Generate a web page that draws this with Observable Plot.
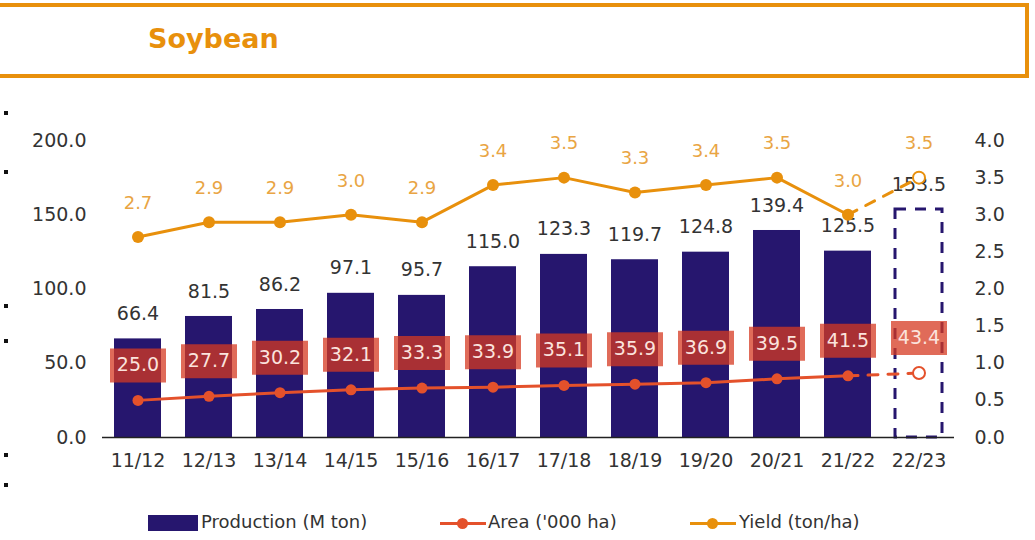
<!DOCTYPE html>
<html>
<head>
<meta charset="utf-8">
<script src="https://cdn.jsdelivr.net/npm/d3@7"></script>
<script src="https://cdn.jsdelivr.net/npm/@observablehq/plot@0.6"></script>
<style>
  html, body { margin: 0; padding: 0; background: #fff; }
  body { width: 1035px; height: 540px; position: relative; overflow: hidden; font-family: "DejaVu Sans", sans-serif; }
  #titlebox { position: absolute; left: -5px; top: 3px; width: 1034px; height: 75px; box-sizing: border-box; border: 4px solid #e8900c; }
  #title { position: absolute; left: 148px; top: 23px; font-size: 27px; font-weight: bold; color: #e8900c; }
  #chart { position: absolute; left: 0; top: 100px; }
  .dotmark { position: absolute; left: 4px; width: 4px; height: 4px; background: #111; }
  .leg { position: absolute; top: 511px; font-size: 18px; color: #333; white-space: nowrap; }
  .sw { position: absolute; }
</style>
</head>
<body>
<div id="titlebox"></div>
<div id="title">Soybean</div>
<div id="chart"></div>
<div id="legend"></div>
<script>
const seasons = ["11/12","12/13","13/14","14/15","15/16","16/17","17/18","18/19","19/20","20/21","21/22","22/23"];
const production = [66.4, 81.5, 86.2, 97.1, 95.7, 115.0, 123.3, 119.7, 124.8, 139.4, 125.5, 153.5];
const areaVals = [25.0, 27.7, 30.2, 32.1, 33.3, 33.9, 35.1, 35.9, 36.9, 39.5, 41.5, 43.4];
const yieldVals = [2.7, 2.9, 2.9, 3.0, 2.9, 3.4, 3.5, 3.3, 3.4, 3.5, 3.0, 3.5];
const leftTicks = [0, 50, 100, 150, 200];
const rightTicks = [0, 0.5, 1.0, 1.5, 2.0, 2.5, 3.0, 3.5, 4.0];
const seriesNames = ["Production (M ton)", "Area ('000 ha)", "Yield (ton/ha)"];

const NAVY = "#26166e", RED = "#e4512b", ORANGE = "#e8900c";
const yieldFactor = 200 / 4; // right axis 0–4.0 maps onto left 0–200

const rows = seasons.map((s, i) => ({
  season: s, production: production[i], area: areaVals[i], yld: yieldVals[i],
  projected: i === seasons.length - 1
}));
const actual = rows.filter(d => !d.projected);
const proj = rows.filter(d => d.projected);
const tail = rows.slice(-2);

const boxSymbol = { draw(ctx) { ctx.rect(-28, -17, 56, 34); } };

const chart = Plot.plot({
  width: 1035, height: 380,
  marginTop: 40, marginBottom: 43, marginLeft: 102, marginRight: 81,
  x: { domain: seasons, paddingInner: 0.34, paddingOuter: 0.17, label: null },
  y: { domain: [0, 200], label: null },
  style: { fontFamily: "DejaVu Sans, sans-serif", fontSize: "19px", color: "#333", background: "transparent" },
  marks: [
    Plot.axisY({ ticks: leftTicks, tickFormat: d => d.toFixed(1), tickSize: 0, tickPadding: 16, label: null, fontSize: 19, fill: "#333" }),
    Plot.axisY({ anchor: "right", ticks: rightTicks.map(t => t * yieldFactor), tickFormat: d => (d / yieldFactor).toFixed(1), tickSize: 0, tickPadding: 20, label: null, fontSize: 19, fill: "#333" }),
    Plot.axisX({ tickSize: 0, tickPadding: 16, label: null, fontSize: 19, fill: "#333" }),
    Plot.barY(actual, { x: "season", y: "production", fill: NAVY }),
    Plot.barY(proj, { x: "season", y: "production", fill: "none", stroke: NAVY, strokeWidth: 3, strokeDasharray: "11,9" }),
    Plot.ruleY([0], { stroke: "#222", strokeWidth: 1.5 }),
    Plot.text(rows, { x: "season", y: "production", text: d => d.production.toFixed(1), dy: -25, fill: "#333", fontSize: 19 }),
    // Area line (left axis)
    Plot.line(actual, { x: "season", y: "area", stroke: RED, strokeWidth: 3 }),
    Plot.line(tail, { x: "season", y: "area", stroke: RED, strokeWidth: 3, strokeDasharray: "10,10" }),
    Plot.dot(actual, { x: "season", y: "area", r: 5.5, fill: RED }),
    Plot.dot(proj, { x: "season", y: "area", r: 6, fill: "white", stroke: RED, strokeWidth: 2 }),
    Plot.dot(rows, { x: "season", y: "area", dy: -35, symbol: boxSymbol, fill: "#d63a22", fillOpacity: 0.75, stroke: "none" }),
    Plot.text(rows, { x: "season", y: "area", dy: -35, text: d => d.area.toFixed(1), fill: "#fbe3dd", fontSize: 19 }),
    // Yield line (right axis)
    Plot.line(actual, { x: "season", y: d => d.yld * yieldFactor, stroke: ORANGE, strokeWidth: 3 }),
    Plot.line(tail, { x: "season", y: d => d.yld * yieldFactor, stroke: ORANGE, strokeWidth: 3, strokeDasharray: "10,10" }),
    Plot.dot(actual, { x: "season", y: d => d.yld * yieldFactor, r: 6, fill: ORANGE }),
    Plot.dot(proj, { x: "season", y: d => d.yld * yieldFactor, r: 6, fill: "white", stroke: ORANGE, strokeWidth: 2 }),
    Plot.text(rows, { x: "season", y: d => d.yld * yieldFactor, dy: -34, text: d => d.yld.toFixed(1), fill: "#e9a544", fontSize: 18 })
  ]
});
document.getElementById("chart").appendChild(chart);

// decorative dots at left edge
[113, 172, 306, 341, 455, 485].forEach(y => {
  const d = document.createElement("div"); d.className = "dotmark"; d.style.top = (y - 2) + "px"; document.body.appendChild(d);
});

// legend
const legend = document.getElementById("legend");
function add(html) { legend.insertAdjacentHTML("beforeend", html); }
add(`<div class="sw" style="left:148px;top:515px;width:50px;height:16px;background:${NAVY}"></div>`);
add(`<div class="leg" style="left:201px">${seriesNames[0]}</div>`);
add(`<div class="sw" style="left:440px;top:522px;width:46px;height:3px;background:${RED}"></div>`);
add(`<div class="sw" style="left:457px;top:518px;width:11px;height:11px;border-radius:50%;background:${RED}"></div>`);
add(`<div class="leg" style="left:488px">${seriesNames[1]}</div>`);
add(`<div class="sw" style="left:690px;top:522px;width:46px;height:3px;background:${ORANGE}"></div>`);
add(`<div class="sw" style="left:707px;top:518px;width:11px;height:11px;border-radius:50%;background:${ORANGE}"></div>`);
add(`<div class="leg" style="left:739px">${seriesNames[2]}</div>`);
</script>
</body>
</html>
